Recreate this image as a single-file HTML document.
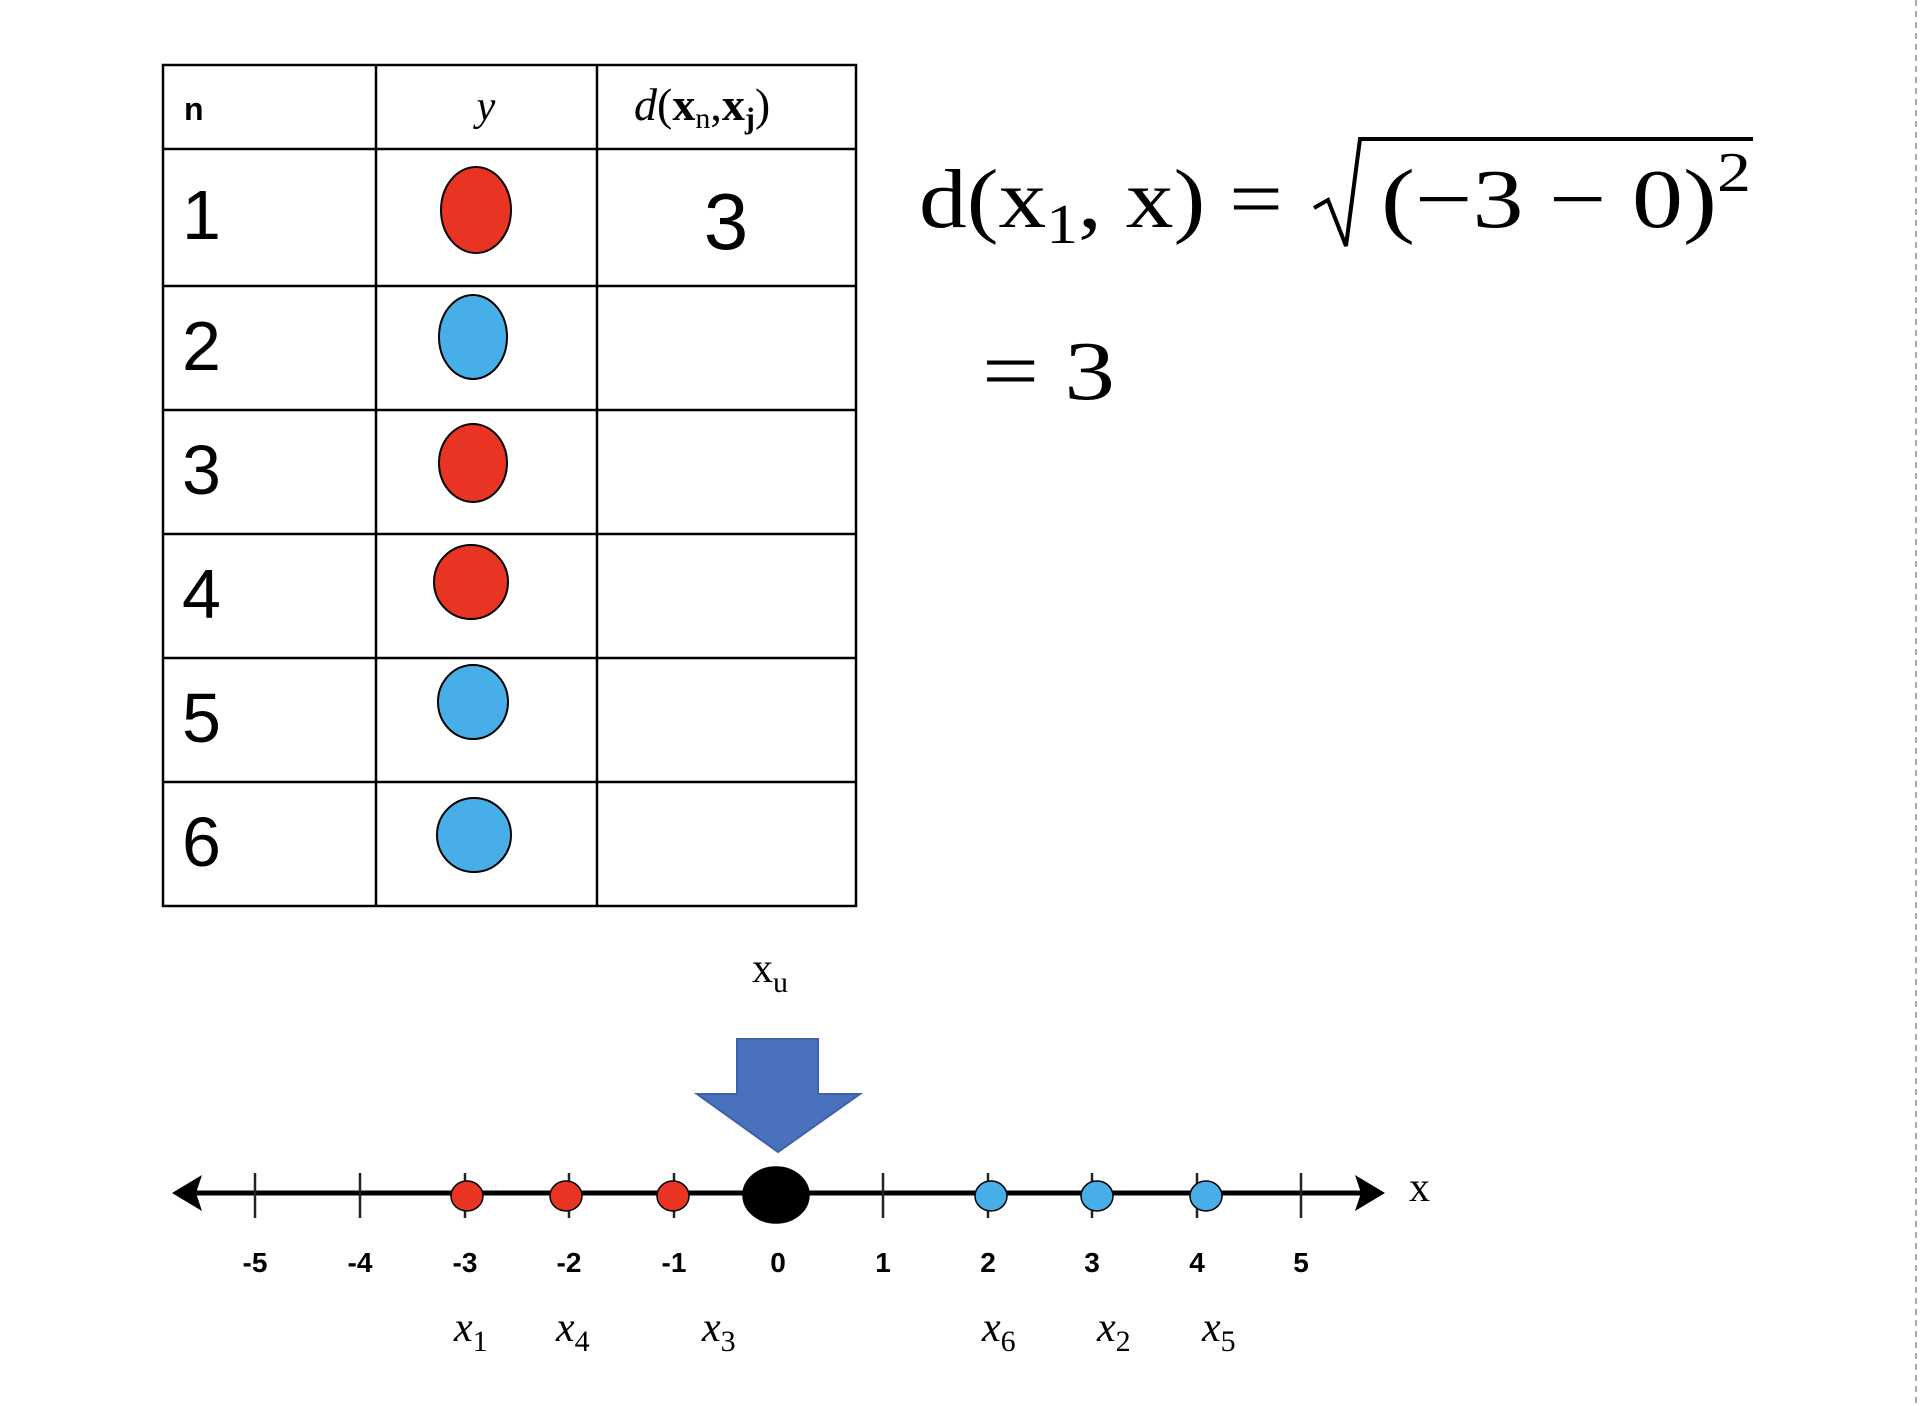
<!DOCTYPE html>
<html><head><meta charset="utf-8"><style>
body{margin:0;background:#fff;}
svg{display:block}
</style></head><body>
<svg width="1924" height="1406" viewBox="0 0 1924 1406" xmlns="http://www.w3.org/2000/svg">
<line x1="1916" y1="0" x2="1916" y2="1406" stroke="#aaa" stroke-width="2" stroke-dasharray="6,5"/>
<g stroke="#000" stroke-width="2.5" fill="none">
<rect x="163" y="65" width="693" height="841"/>
<line x1="376" y1="65" x2="376" y2="906"/>
<line x1="597" y1="65" x2="597" y2="906"/>
<line x1="163" y1="149" x2="856" y2="149"/>
<line x1="163" y1="286" x2="856" y2="286"/>
<line x1="163" y1="410" x2="856" y2="410"/>
<line x1="163" y1="534" x2="856" y2="534"/>
<line x1="163" y1="658" x2="856" y2="658"/>
<line x1="163" y1="782" x2="856" y2="782"/>
</g>
<g font-family="Liberation Sans, sans-serif">
<text x="184" y="120" font-size="32" font-weight="bold">n</text>
<g font-size="70">
<text x="182" y="239">1</text><text x="182" y="370">2</text><text x="182" y="494">3</text>
<text x="182" y="618">4</text><text x="182" y="742">5</text><text x="182" y="866">6</text>
</g>
<text x="726" y="249" font-size="80" text-anchor="middle">3</text>
</g>
<text x="486" y="120" font-family="Liberation Serif, serif" font-size="42" font-style="italic" text-anchor="middle">y</text>
<text x="634" y="120" font-family="Liberation Serif, serif" font-size="46"><tspan font-style="italic">d</tspan>(<tspan font-weight="bold">x</tspan><tspan font-size="30" dy="8">n</tspan><tspan dy="-8">,</tspan><tspan font-weight="bold">x</tspan><tspan font-size="30" font-weight="bold" dy="8">j</tspan><tspan dy="-8">)</tspan></text>
<g stroke="#000" stroke-width="2">
<ellipse cx="476" cy="210" rx="35" ry="43" fill="#e93323"/>
<ellipse cx="473" cy="337" rx="34" ry="42" fill="#47aee8"/>
<ellipse cx="473" cy="463" rx="34" ry="39" fill="#e93323"/>
<ellipse cx="471" cy="582" rx="37" ry="37" fill="#e93323"/>
<ellipse cx="473" cy="702" rx="35" ry="37" fill="#47aee8"/>
<ellipse cx="474" cy="835" rx="37" ry="37" fill="#47aee8"/>
</g>
<g font-family="Liberation Serif, serif" font-size="84">
<text x="919" y="227" textLength="364" lengthAdjust="spacingAndGlyphs">d(x<tspan font-size="56" dy="16">1</tspan><tspan dy="-16">, x) =</tspan></text>
<text x="1381" y="227" textLength="370" lengthAdjust="spacingAndGlyphs">(−3 − 0)<tspan font-size="56" dy="-36">2</tspan></text>
<text x="982" y="399" textLength="133" lengthAdjust="spacingAndGlyphs">= 3</text>
</g>
<polyline points="1314,208 1328,200 1346,246 1360,139 1753,139" fill="none" stroke="#000" stroke-width="4"/>
<!-- number line -->
<line x1="185" y1="1193" x2="1370" y2="1193" stroke="#000" stroke-width="5"/>
<polygon points="172,1193 202,1175 196,1193 202,1211" fill="#000"/>
<polygon points="1385,1193 1355,1175 1361,1193 1355,1211" fill="#000"/>
<g stroke="#222" stroke-width="2.5">
<line x1="255" y1="1173" x2="255" y2="1218"/><line x1="360" y1="1173" x2="360" y2="1218"/>
<line x1="465" y1="1173" x2="465" y2="1218"/><line x1="569" y1="1173" x2="569" y2="1218"/>
<line x1="674" y1="1173" x2="674" y2="1218"/><line x1="778" y1="1173" x2="778" y2="1218"/>
<line x1="883" y1="1173" x2="883" y2="1218"/><line x1="988" y1="1173" x2="988" y2="1218"/>
<line x1="1092" y1="1173" x2="1092" y2="1218"/><line x1="1197" y1="1173" x2="1197" y2="1218"/>
<line x1="1301" y1="1173" x2="1301" y2="1218"/>
</g>
<g font-family="Liberation Sans, sans-serif" font-weight="bold" font-size="28" text-anchor="middle">
<text x="255" y="1272">-5</text><text x="360" y="1272">-4</text><text x="465" y="1272">-3</text>
<text x="569" y="1272">-2</text><text x="674" y="1272">-1</text><text x="778" y="1272">0</text>
<text x="883" y="1272">1</text><text x="988" y="1272">2</text><text x="1092" y="1272">3</text>
<text x="1197" y="1272">4</text><text x="1301" y="1272">5</text>
</g>
<g stroke="#000" stroke-width="1.5">
<ellipse cx="467" cy="1196" rx="16" ry="15" fill="#e93323"/>
<ellipse cx="566" cy="1196" rx="16" ry="15" fill="#e93323"/>
<ellipse cx="673" cy="1196" rx="16" ry="15" fill="#e93323"/>
<ellipse cx="991" cy="1196" rx="16" ry="15" fill="#47aee8"/>
<ellipse cx="1097" cy="1196" rx="16" ry="15" fill="#47aee8"/>
<ellipse cx="1206" cy="1196" rx="16" ry="15" fill="#47aee8"/>
<ellipse cx="776" cy="1195" rx="33" ry="28" fill="#000"/>
</g>
<polygon points="737,1039 818,1039 818,1094 860,1094 778,1152 697,1094 737,1094" fill="#4a71bd" stroke="#3e62a8" stroke-width="2"/>
<g font-family="Liberation Serif, serif">
<text x="1409" y="1201" font-size="42">x</text>
<text x="752" y="982" font-size="42">x<tspan font-size="30" dy="10">u</tspan></text>
<g font-size="42" font-style="italic">
<text x="454" y="1341">x<tspan font-size="30" font-style="normal" dy="10">1</tspan></text>
<text x="556" y="1341">x<tspan font-size="30" font-style="normal" dy="10">4</tspan></text>
<text x="702" y="1341">x<tspan font-size="30" font-style="normal" dy="10">3</tspan></text>
<text x="982" y="1341">x<tspan font-size="30" font-style="normal" dy="10">6</tspan></text>
<text x="1097" y="1341">x<tspan font-size="30" font-style="normal" dy="10">2</tspan></text>
<text x="1202" y="1341">x<tspan font-size="30" font-style="normal" dy="10">5</tspan></text>
</g>
</g>
</svg>
</body></html>
